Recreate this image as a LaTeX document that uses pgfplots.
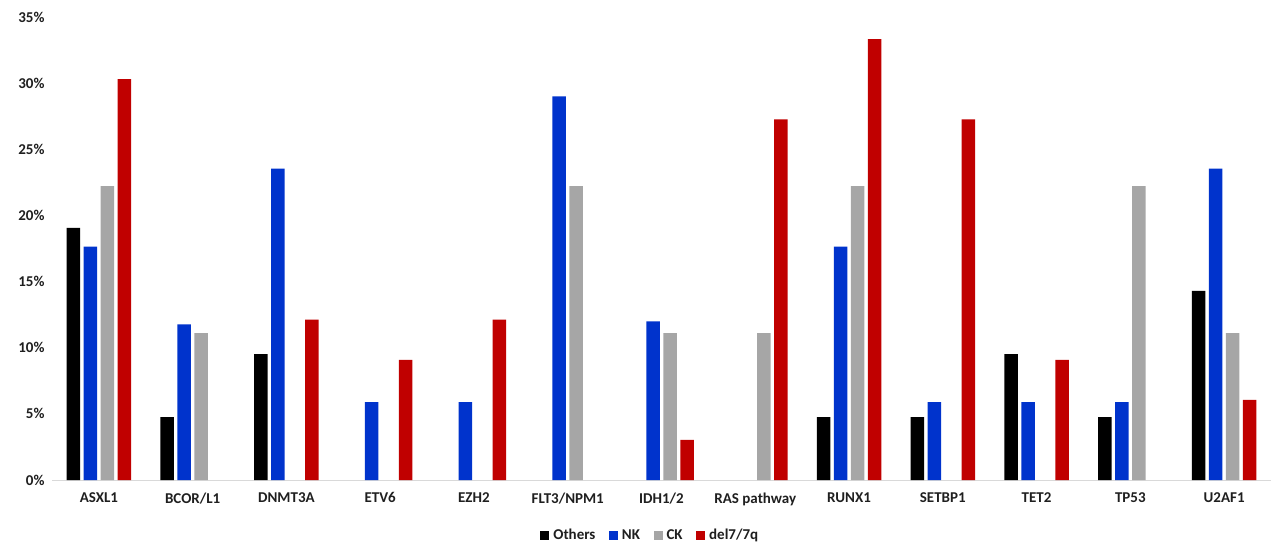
\documentclass[border=0pt]{standalone}
\usepackage{pgfplots}
\pgfplotsset{compat=1.18}
\usepackage{fontspec}
\setmainfont{Carlito}[BoldFont={Carlito Bold}]
\definecolor{cOth}{HTML}{000000}
\definecolor{cNK}{HTML}{0033CC}
\definecolor{cCK}{HTML}{A6A6A6}
\definecolor{cDel}{HTML}{C00000}
\begin{document}
\begin{tikzpicture}[x=1pt,y=1pt]
\path[use as bounding box] (-52,-66) rectangle (1219,480);
\begin{axis}[
  at={(0,0)}, anchor=south west,
  scale only axis, width=1219pt, height=463pt,
  ybar=3.5pt, bar width=13.5pt,
  xmin=-0.5, xmax=12.5, ymin=0, ymax=35,
  xtick={0,...,12},
  xticklabels={ASXL1,BCOR/L1,DNMT3A,ETV6,EZH2,FLT3/NPM1,IDH1/2,RAS pathway,RUNX1,SETBP1,TET2,TP53,U2AF1},
  ytick={0,5,...,35},
  yticklabel={\pgfmathprintnumber{\tick}\%},
  /pgf/number format/assume math mode=true,
  tick label style={font=\bfseries\fontsize{15}{17}\selectfont, text=black!88},
  major tick length=0pt,
  axis line style={draw=none},
  xticklabel style={yshift=-9pt},
  yticklabel style={xshift=-4pt},
  clip=false,
  legend style={draw=none, at={(598pt,-55pt)}, anchor=center, legend columns=-1,
    font=\bfseries\fontsize{15}{17}\selectfont, text=black!88,
    /tikz/every odd column/.append style={column sep=2.5pt},
    /tikz/every even column/.append style={column sep=12pt},
    nodes={inner sep=1.5pt}},
  legend image code/.code={\fill[#1] (0pt,-4.5pt) rectangle (9pt,4.5pt);},
]
\draw[black!15, line width=1pt] (axis cs:-0.5,0) -- (axis cs:12.5,0);
\addplot[fill=cOth, draw=none] coordinates {(0,19.05) (1,4.76) (2,9.52) (8,4.76) (9,4.76) (10,9.52) (11,4.76) (12,14.29)};
\addplot[fill=cNK, draw=none] coordinates {(0,17.65) (1,11.76) (2,23.53) (3,5.88) (4,5.88) (5,29.0) (6,12.0) (8,17.65) (9,5.88) (10,5.88) (11,5.88) (12,23.53)};
\addplot[fill=cCK, draw=none] coordinates {(0,22.22) (1,11.11) (5,22.22) (6,11.11) (7,11.11) (8,22.22) (11,22.22) (12,11.11)};
\addplot[fill=cDel, draw=none] coordinates {(0,30.30) (2,12.12) (3,9.09) (4,12.12) (6,3.03) (7,27.27) (8,33.33) (9,27.27) (10,9.09) (12,6.06)};
\legend{Others,NK,CK,del7/7q}
\end{axis}
\end{tikzpicture}
\end{document}
